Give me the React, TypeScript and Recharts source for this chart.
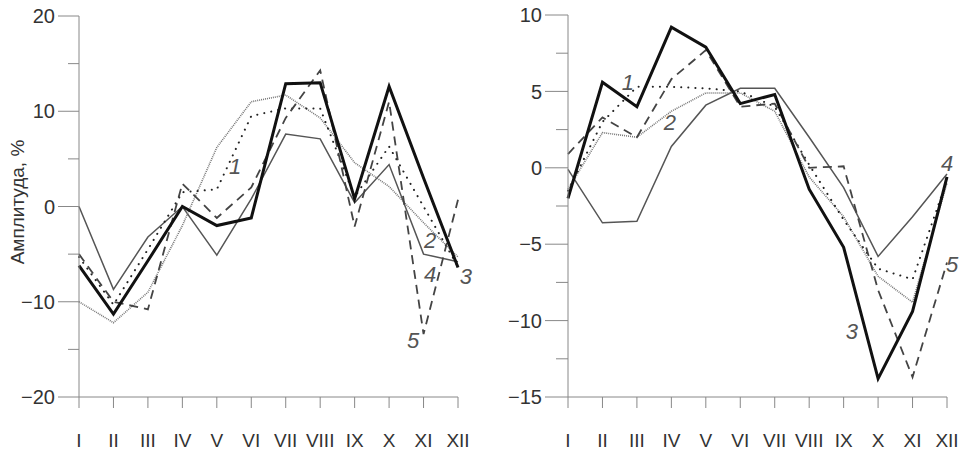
import { LineChart, Line, XAxis, YAxis, ReferenceDot } from 'recharts'

const MONTHS = ['I', 'II', 'III', 'IV', 'V', 'VI', 'VII', 'VIII', 'IX', 'X', 'XI', 'XII']

// left panel
const left1 = [-5.3, -10.3, -4.5, 1.5, 1.8, 9.5, 10.3, 10.3, 1.0, 6.3, 0, -6.3]
const left2 = [-10, -12.2, -9, -2, 6.2, 11.0, 11.7, 9.3, 4.6, 2.1, -1.7, -5.3]
const left3 = [-6.2, -11.3, -5.7, 0, -2.0, -1.2, 12.9, 13.0, 0.8, 12.6, 3.0, -6.4]
const left4 = [0, -8.7, -3.2, 0, -5.1, 0.8, 7.6, 7.1, 0.4, 4.4, -5.0, -5.8]
const left5 = [-5.0, -10.0, -10.8, 2.4, -1.2, 2.0, 9.3, 14.3, -2.1, 11.0, -13.4, 0.7]
const leftTicks = [-20, -15, -10, -5, 0, 5, 10, 15, 20]
const leftMajor = [-20, -10, 0, 10, 20]
const leftNums = [
  { n: '1', x: 5.53, y: 4.2 },
  { n: '2', x: 11.19, y: -3.5 },
  { n: '4', x: 11.19, y: -7.1 },
  { n: '3', x: 12.23, y: -7.3 },
  { n: '5', x: 10.7, y: -14.0 },
]

// right panel
const right1 = [-1.5, 3.0, 5.3, 5.3, 5.2, 5.0, 4.0, 0.2, -3.4, -6.6, -7.3, -0.8]
const right2 = [-1.4, 2.3, 2.0, 3.7, 4.9, 4.9, 3.7, -0.6, -3.2, -7.1, -8.8, -1.0]
const right3 = [-2.0, 5.6, 4.0, 9.2, 7.9, 4.2, 4.8, -1.4, -5.2, -13.8, -9.4, -0.6]
const right4 = [-0.1, -3.6, -3.5, 1.4, 4.1, 5.2, 5.2, 2.0, -1.3, -5.8, -3.2, -0.4]
const right5 = [0.9, 3.3, 2.0, 5.8, 7.7, 4.0, 4.2, 0.0, 0.1, -8.0, -13.7, -6.2]
const rightTicks = [-15, -12.5, -10, -7.5, -5, -2.5, 0, 2.5, 5, 7.5, 10]
const rightMajor = [-15, -10, -5, 0, 5, 10]
const rightNums = [
  { n: '1', x: 2.74, y: 5.6 },
  { n: '2', x: 3.96, y: 3.0 },
  { n: '3', x: 9.24, y: -10.7 },
  { n: '4', x: 12.0, y: 0.3 },
  { n: '5', x: 12.15, y: -6.3 },
]

const FONT = '"Liberation Sans", Arial, sans-serif'
const AXIS = '#888'

const build = (s1: number[], s2: number[], s3: number[], s4: number[], s5: number[]) =>
  MONTHS.map((_, i) => ({ m: i + 1, s1: s1[i], s2: s2[i], s3: s3[i], s4: s4[i], s5: s5[i] }))

const fmt = (v: number) => (v < 0 ? '\u2212' + Math.abs(v) : String(v))

const yTick = (majors: number[], majorLen: number, minorLen: number) => (props: any) => {
  const { x, y, payload } = props
  const major = majors.includes(payload.value)
  const len = major ? majorLen : minorLen
  return (
    <g>
      <line x1={x - len} y1={y} x2={x} y2={y} stroke={AXIS} strokeWidth={1} />
      {major && (
        <text x={x - len - 3} y={y} dy="0.36em" textAnchor="end" fontSize={20} fill="#333" fontFamily={FONT}>
          {fmt(payload.value)}
        </text>
      )}
    </g>
  )
}

const xTick = (props: any) => {
  const { x, y, payload } = props
  return (
    <g>
      <line x1={x} y1={y} x2={x} y2={y + 11} stroke={AXIS} strokeWidth={1} />
      <text x={x} y={y + 50} textAnchor="middle" fontSize={19} fill="#333" fontFamily={FONT}>
        {MONTHS[payload.value - 1]}
      </text>
    </g>
  )
}

function Panel(props: {
  data: ReturnType<typeof build>
  width: number
  yWidth: number
  right: number
  top: number
  domain: [number, number]
  ticks: number[]
  majors: number[]
  majorLen: number
  minorLen: number
  nums: { n: string; x: number; y: number }[]
}) {
  const { data, width, yWidth, right, top, domain, ticks, majors, majorLen, minorLen, nums } = props
  return (
    <LineChart width={width} height={452} data={data} margin={{ top, right, bottom: 0, left: 0 }}>
      <XAxis
        dataKey="m"
        type="number"
        domain={[1, 12]}
        ticks={[1, 2, 3, 4, 5, 6, 7, 8, 9, 10, 11, 12]}
        interval={0}
        height={55}
        tickSize={0}
        tickMargin={0}
        tickLine={false}
        axisLine={{ stroke: AXIS }}
        tick={xTick}
      />
      <YAxis
        type="number"
        domain={domain}
        ticks={ticks}
        interval={0}
        width={yWidth}
        tickSize={0}
        tickMargin={0}
        tickLine={false}
        axisLine={{ stroke: AXIS }}
        tick={yTick(majors, majorLen, minorLen)}
      />
      <Line dataKey="s4" stroke="#555" strokeWidth={1.5} dot={false} activeDot={false} isAnimationActive={false} />
      <Line dataKey="s2" stroke="#777" strokeWidth={1.6} strokeDasharray="1 1" dot={false} activeDot={false} isAnimationActive={false} />
      <Line dataKey="s1" stroke="#222" strokeWidth={2} strokeDasharray="0.1 7" strokeLinecap="round" dot={false} activeDot={false} isAnimationActive={false} />
      <Line dataKey="s5" stroke="#444" strokeWidth={1.8} strokeDasharray="9 6" dot={false} activeDot={false} isAnimationActive={false} />
      <Line dataKey="s3" stroke="#111" strokeWidth={3} dot={false} activeDot={false} isAnimationActive={false} />
      {nums.map(d => (
        <ReferenceDot
          key={d.n}
          x={d.x}
          y={d.y}
          r={0}
          fill="none"
          stroke="none"
          ifOverflow="visible"
          label={{ value: d.n, position: 'center', fill: '#555', fontSize: 22, fontStyle: 'italic', fontFamily: FONT }}
        />
      ))}
    </LineChart>
  )
}

export default function App() {
  const leftData = build(left1, left2, left3, left4, left5)
  const rightData = build(right1, right2, right3, right4, right5)
  return (
    <div style={{ position: 'absolute', left: 0, top: 0, width: 965, height: 452, background: '#fff', overflow: 'hidden' }}>
      <div style={{ position: 'absolute', left: 0, top: 0 }}>
        <Panel
          data={leftData}
          width={480}
          yWidth={79}
          right={22}
          top={16}
          domain={[-20, 20]}
          ticks={leftTicks}
          majors={leftMajor}
          majorLen={21}
          minorLen={11}
          nums={leftNums}
        />
      </div>
      <div style={{ position: 'absolute', left: 480, top: 0 }}>
        <Panel
          data={rightData}
          width={485}
          yWidth={88}
          right={18}
          top={15}
          domain={[-15, 10]}
          ticks={rightTicks}
          majors={rightMajor}
          majorLen={23}
          minorLen={12}
          nums={rightNums}
        />
      </div>
      <svg style={{ position: 'absolute', left: 0, top: 0 }} width={40} height={452}>
        <text
          x={24}
          y={202}
          transform="rotate(-90, 24, 202)"
          textAnchor="middle"
          fontSize={19}
          fill="#333"
          fontFamily={FONT}
        >
          Амплитуда, %
        </text>
      </svg>
    </div>
  )
}
